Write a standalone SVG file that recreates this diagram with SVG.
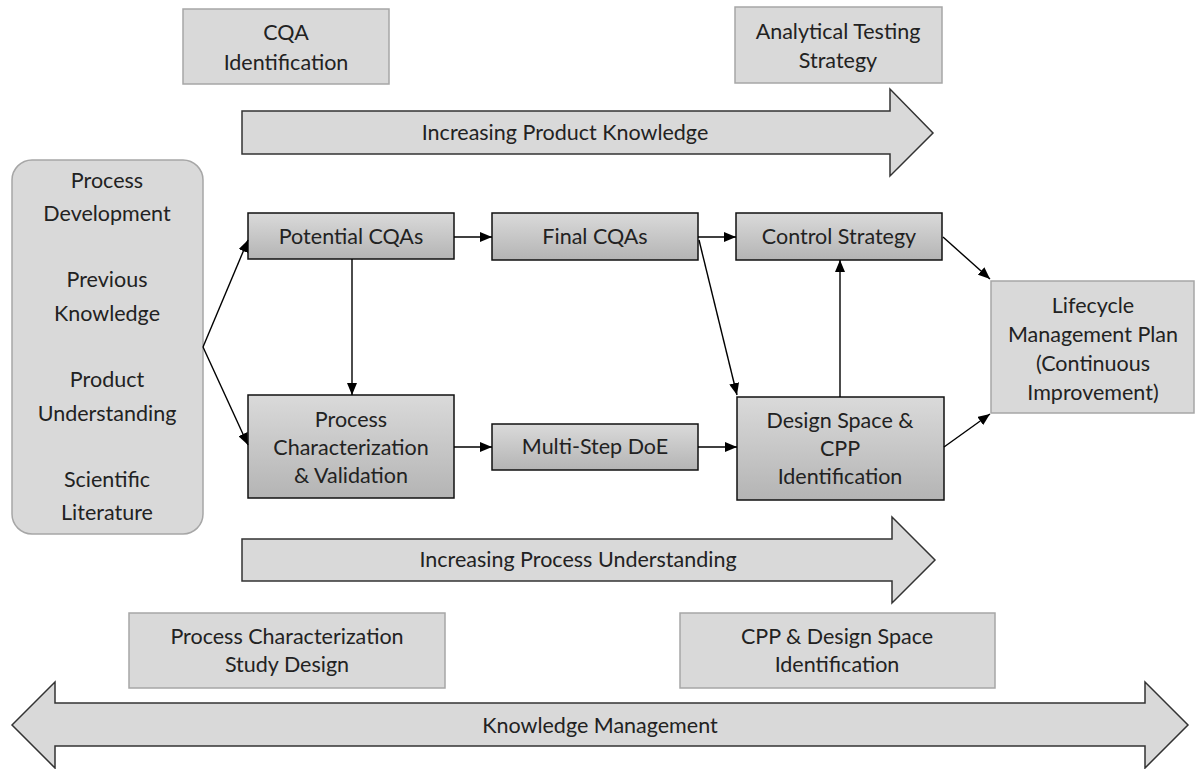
<svg xmlns="http://www.w3.org/2000/svg" width="1195" height="769" viewBox="0 0 1195 769">
<defs>
<linearGradient id="g" x1="0" y1="0" x2="0" y2="1">
<stop offset="0" stop-color="#dadada"/>
<stop offset="1" stop-color="#b4b4b4"/>
</linearGradient>
<marker id="ah" viewBox="0 0 12 10" refX="12" refY="5" markerWidth="12" markerHeight="10" markerUnits="userSpaceOnUse" orient="auto">
<path d="M0,0 L12,5 L0,10 Z" fill="#000"/>
</marker>
<style>
.light{fill:#d9d9d9;stroke:#a6a6a6;stroke-width:1.5}
.dark{fill:url(#g);stroke:#111;stroke-width:1.5}
.big{fill:#d9d9d9;stroke:#333;stroke-width:1.5;stroke-linejoin:miter}
.t{font-family:Lato,"Liberation Sans",sans-serif;font-size:21.5px;fill:#222;text-anchor:middle}
.c{fill:none;stroke:#000;stroke-width:1.4;marker-end:url(#ah)}
</style>
</defs>
<rect width="1195" height="769" fill="#fff"/>

<g id="arrow-product">
<path class="big" d="M242,111 L890,111 L890,89 L933,133 L890,176 L890,154 L242,154 Z"/>
<text class="t" x="565" y="140">Increasing Product Knowledge</text>
</g>
<g id="arrow-process">
<path class="big" d="M242,539 L892,539 L892,517 L935,560 L892,603 L892,581 L242,581 Z"/>
<text class="t" x="578" y="567">Increasing Process Understanding</text>
</g>
<g id="arrow-knowledge">
<path class="big" d="M12,725 L55,682 L55,703 L1145,703 L1145,682 L1188,725 L1145,768 L1145,746 L55,746 L55,768 Z"/>
<text class="t" x="600" y="733">Knowledge Management</text>
</g>

<g id="cqa-identification">
<rect class="light" x="183" y="9" width="206" height="75"/>
<text class="t" x="286" y="40">CQA</text>
<text class="t" x="286" y="70">Identification</text>
</g>
<g id="analytical-testing">
<rect class="light" x="735" y="7" width="207" height="76"/>
<text class="t" x="838" y="39">Analytical Testing</text>
<text class="t" x="838" y="68">Strategy</text>
</g>
<g id="sources">
<rect class="light" x="12" y="160" width="191" height="374" rx="20" ry="20"/>
<text class="t" x="107" y="188">Process</text>
<text class="t" x="107" y="221">Development</text>
<text class="t" x="107" y="287">Previous</text>
<text class="t" x="107" y="321">Knowledge</text>
<text class="t" x="107" y="387">Product</text>
<text class="t" x="107" y="421">Understanding</text>
<text class="t" x="107" y="487">Scientific</text>
<text class="t" x="107" y="520">Literature</text>
</g>
<g id="potential-cqas">
<rect class="dark" x="248" y="213" width="206" height="46"/>
<text class="t" x="351" y="244">Potential CQAs</text>
</g>
<g id="final-cqas">
<rect class="dark" x="492" y="213" width="206" height="47"/>
<text class="t" x="595" y="244">Final CQAs</text>
</g>
<g id="control-strategy">
<rect class="dark" x="736" y="213" width="206" height="47"/>
<text class="t" x="839" y="244">Control Strategy</text>
</g>
<g id="process-characterization">
<rect class="dark" x="248" y="395" width="206" height="103"/>
<text class="t" x="351" y="427">Process</text>
<text class="t" x="351" y="455">Characterization</text>
<text class="t" x="351" y="483">&amp; Validation</text>
</g>
<g id="multi-step-doe">
<rect class="dark" x="492" y="424" width="206" height="46"/>
<text class="t" x="595" y="454">Multi-Step DoE</text>
</g>
<g id="design-space">
<rect class="dark" x="737" y="397" width="207" height="103"/>
<text class="t" x="840" y="428">Design Space &amp;</text>
<text class="t" x="840" y="456">CPP</text>
<text class="t" x="840" y="484">Identification</text>
</g>
<g id="lifecycle">
<rect class="light" x="991" y="281" width="203" height="132"/>
<text class="t" x="1093" y="313">Lifecycle</text>
<text class="t" x="1093" y="342">Management Plan</text>
<text class="t" x="1093" y="371">(Continuous</text>
<text class="t" x="1093" y="400">Improvement)</text>
</g>
<g id="study-design">
<rect class="light" x="129" y="613" width="316" height="75"/>
<text class="t" x="287" y="644">Process Characterization</text>
<text class="t" x="287" y="672">Study Design</text>
</g>
<g id="cpp-design-space">
<rect class="light" x="680" y="613" width="315" height="75"/>
<text class="t" x="837" y="644">CPP &amp; Design Space</text>
<text class="t" x="837" y="672">Identification</text>
</g>

<g id="connectors">
<path class="c" d="M203,347 L248,240"/>
<path class="c" d="M203,347 L248,445"/>
<path class="c" d="M454,237 L492,237"/>
<path class="c" d="M352,259 L352,395"/>
<path class="c" d="M454,447 L492,447"/>
<path class="c" d="M698,237 L736,237"/>
<path class="c" d="M699,240 L737,395"/>
<path class="c" d="M698,447 L737,447"/>
<path class="c" d="M840,397 L840,260"/>
<path class="c" d="M943,237 L990,279"/>
<path class="c" d="M944,447 L990,414"/>
</g>
</svg>
